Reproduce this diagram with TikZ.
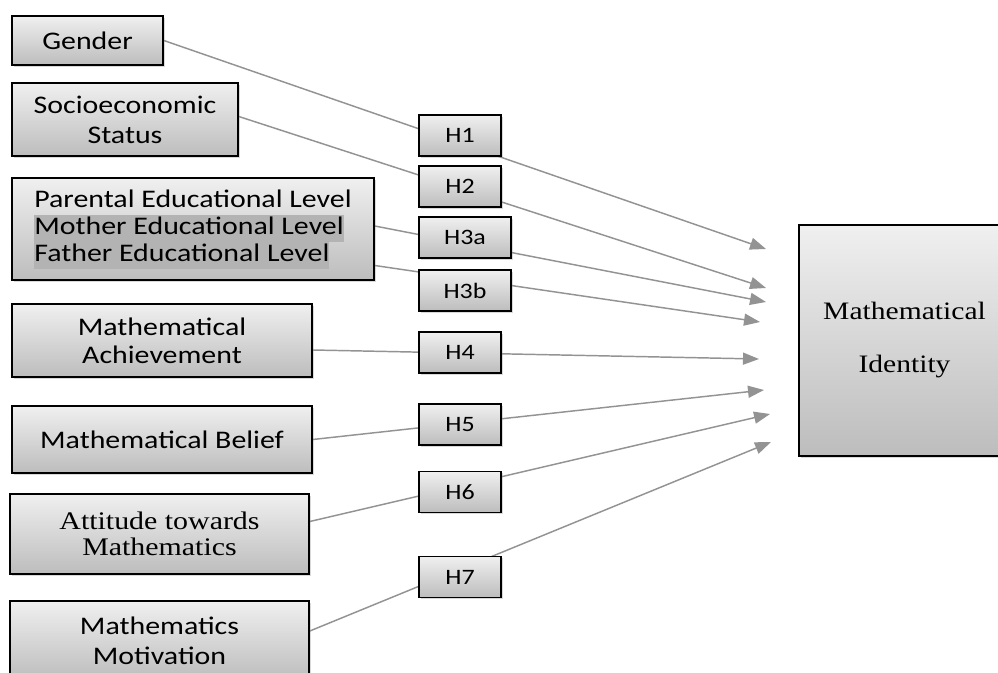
\documentclass[tikz,border=0pt]{standalone}
\usepackage{fontspec}
\setmainfont{Carlito}[FakeStretch=1.18]
\newfontfamily\timesfont{Liberation Serif}[FakeStretch=1.18]
\usetikzlibrary{arrows.meta,shadows,backgrounds,calc}
\definecolor{linegray}{HTML}{939393}
\definecolor{hlgray}{HTML}{B3B3B3}
\setlength{\fboxsep}{0pt}
\newcommand{\hilite}[1]{\colorbox{hlgray}{\rule[-5.6pt]{0pt}{20.25pt}#1}}

\begin{document}
\begin{tikzpicture}[x=0.75pt,y=-0.75pt,
  box/.style={draw=black,line width=1.2pt,top color=gray!12,bottom color=gray!52,
    drop shadow={shadow xshift=1.2pt,shadow yshift=-1.2pt,opacity=0.3},
    inner sep=0pt,align=center,font=\fontsize{19}{21}\selectfont},
  hbox/.style={box,font=\fontsize{16.5}{18}\selectfont,minimum width=61.5pt,minimum height=30.75pt},
  link/.style={draw=linegray,line width=1.1pt,-{Triangle[length=12pt,width=9pt]}}]
  \useasboundingbox (0,0) rectangle (998,673);
  \clip (0,0) rectangle (998,673);

  % Variables
  \node[box,minimum width=113.25pt,minimum height=36.75pt] (gender) at (87.5,40.5) {Gender};
  \node[box,minimum width=169.5pt,minimum height=54.75pt,font=\fontsize{19}{22.5}\selectfont] (socio) at (125,119.5) {Socioeconomic\\Status};
  \node[box,minimum width=271.5pt,minimum height=76.5pt,align=left,font=\fontsize{19}{20.25}\selectfont] (parent) at (193,229)
    {Parental Educational Level\\\hilite{Mother Educational Level}\\\hilite{Father Educational Level}};
  \node[box,minimum width=225pt,minimum height=54.75pt] (achieve) at (162,340.5) {Mathematical\\Achievement};
  \node[box,minimum width=225pt,minimum height=50.25pt] (belief) at (162,439.5) {Mathematical Belief};
  \node[box,minimum width=224.25pt,minimum height=60pt,font=\timesfont\fontsize{19}{19.5}\selectfont] (attitude) at (159.5,534) {Attitude towards\\Mathematics};
  \node[box,minimum width=224.25pt,minimum height=59.25pt,font=\fontsize{19}{22.5}\selectfont] (motiv) at (159.5,640.5) {Mathematics\\Motivation};

  % Outcome
  \node[box,minimum width=158.25pt,minimum height=173.25pt,font=\timesfont\fontsize{18.8}{39.75}\selectfont] (identity) at (904.5,340.5) {Mathematical\\Identity};

  % Hypotheses
  \node[hbox] (h1) at (460,135.5) {H1};
  \node[hbox] (h2) at (460,186.5) {H2};
  \node[hbox,minimum width=69pt] (h3a) at (465,237.5) {H3a};
  \node[hbox,minimum width=69pt] (h3b) at (465,290.5) {H3b};
  \node[hbox] (h4) at (460,352.5) {H4};
  \node[hbox] (h5) at (460,424.5) {H5};
  \node[hbox] (h6) at (460,492) {H6};
  \node[hbox] (h7) at (460,577) {H7};

  % Arrow tips in front of the outcome box
  \coordinate (t1) at (766,249);
  \coordinate (t2) at (766,288);
  \coordinate (t3a) at (766,302);
  \coordinate (t3b) at (760,322);
  \coordinate (t4) at (759,359);
  \coordinate (t5) at (764,390);
  \coordinate (t6) at (770,414);
  \coordinate (t7) at (771,442);

  % Paths (run under the hypothesis boxes)
  \begin{pgfonlayer}{background}
    \draw[link] (gender.east) -- (t1);
    \draw[link] ($(socio.east)+(0,-3)$) -- (t2);
    \draw[link] ($(parent.east)+(0,-3)$) -- (t3a);
    \draw[link] ($(parent.east)+(0,36.5)$) -- (t3b);
    \draw[link] ($(achieve.east)+(0,9.5)$) -- (t4);
    \draw[link] (belief.east) -- (t5);
    \draw[link] ($(attitude.east)+(0,-12.5)$) -- (t6);
    \draw[link] ($(motiv.east)+(0,-9.5)$) -- (t7);
  \end{pgfonlayer}
\end{tikzpicture}
\end{document}
